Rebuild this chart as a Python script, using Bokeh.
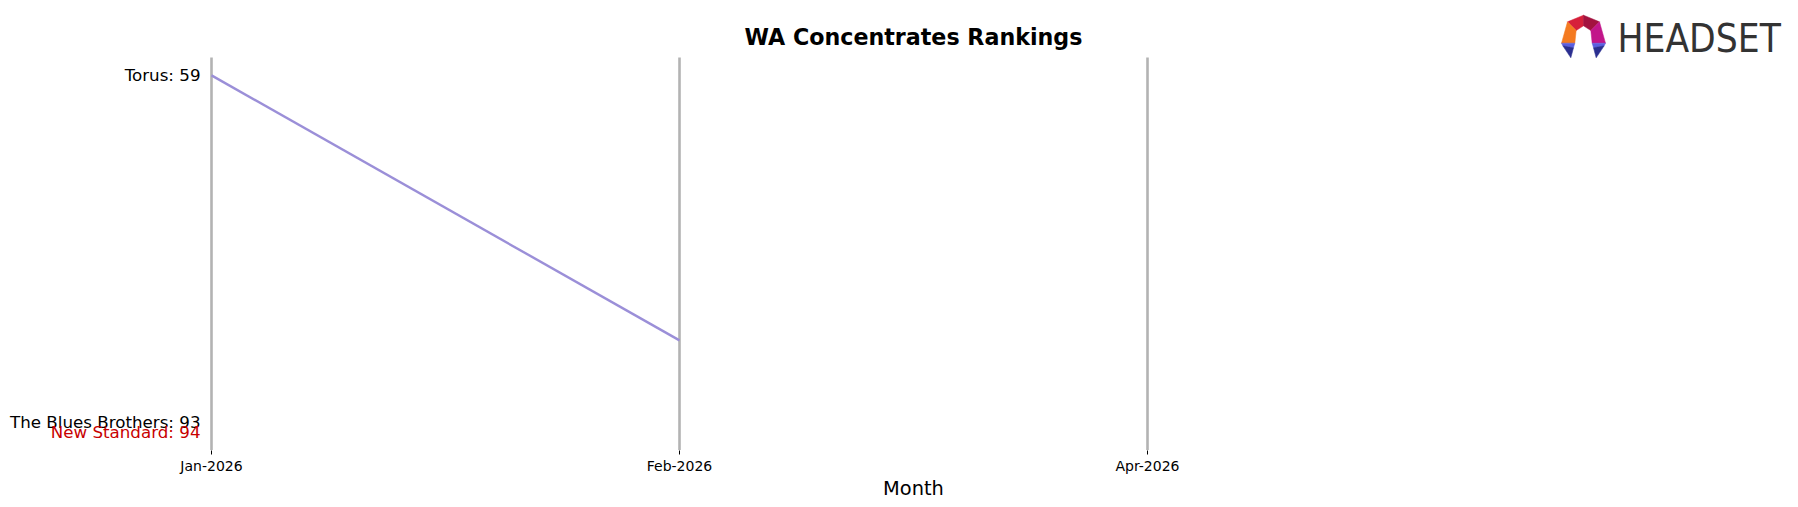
from bokeh.plotting import figure
from bokeh.models import Range1d, FixedTicker, Label, PolyAnnotation, Title
from bokeh.embed import file_html
from bokeh.resources import INLINE

# ---- data ----
months = ["Jan-2026", "Feb-2026", "Apr-2026"]
month_pos = [0, 1, 2]
torus_months = [0, 1]
torus_ranks = [59, 85]
label_brands = ["Torus", "The Blues Brothers", "New Standard"]
label_ranks = [59, 93, 94]
label_colors = ["#000000", "#000000", "#c80000"]
x_limits = [0, 3]

# rank axis limits with 5% margin
r_min, r_max = min(label_ranks), max(label_ranks)
pad = (r_max - r_min) * 0.05
y_top, y_bot = r_min - pad, r_max + pad

# ---- layout (pixels) ----
FONT = "DejaVu Sans"
W, H = 1798, 507
FRAME_H = 450               # frame covers canvas from top to the x axis
AX_TOP, AX_BOT = 57, 449.5  # pixel rows of the rank limits
AX_LEFT, AX_RIGHT = 211, 1615

px_per_rank = (AX_BOT - AX_TOP) / (y_bot - y_top)
px_per_x = (AX_RIGHT - AX_LEFT) / (x_limits[1] - x_limits[0])
yr_top = y_top - AX_TOP / px_per_rank
yr_bot = y_bot + (FRAME_H - AX_BOT) / px_per_rank
xr_left = x_limits[0] - AX_LEFT / px_per_x
xr_right = x_limits[0] + (W - AX_LEFT) / px_per_x

p = figure(width=W, height=H, output_backend="svg", toolbar_location=None,
           x_range=Range1d(xr_left, xr_right), y_range=Range1d(yr_bot, yr_top),
           y_axis_location=None, min_border_left=0, min_border_right=0,
           min_border_top=0, min_border_bottom=H - FRAME_H,
           outline_line_color=None,
           background_fill_color="white", border_fill_color="white")
p.grid.visible = False

ax = p.xaxis[0]
ax.ticker = FixedTicker(ticks=month_pos)
ax.major_label_overrides = {k: v for k, v in zip(month_pos, months)}
ax.axis_line_color = None
ax.major_tick_in = 0
ax.major_tick_out = 4
ax.major_tick_line_color = "#000000"
ax.minor_tick_line_color = None
ax.major_label_text_font = FONT
ax.major_label_text_font_size = "14px"
ax.major_label_text_color = "#000000"
ax.major_label_standoff = 3

# "Month" label centred under the rank axes (x = 1.5 -> pixel 912)
MONTH_FS = 19.4
month_w = 3.135 * MONTH_FS
month_title = Title(text="Month", align="left",
                    offset=(AX_LEFT + AX_RIGHT) / 2 - month_w / 2,
                    text_font=FONT, text_font_size=f"{MONTH_FS}px",
                    text_font_style="normal", text_color="#000000", standoff=-3)
p.add_layout(month_title, "below")

# month guide lines
p.segment(x0=month_pos, y0=[y_bot] * len(month_pos), x1=month_pos,
          y1=[y_top] * len(month_pos), line_color="#b3b3b3", line_width=2.6)

# Torus ranking line
p.line(torus_months, torus_ranks, line_color="#9b8fd8", line_width=2.4)

# brand labels at first month
for b, r, c in zip(label_brands, label_ranks, label_colors):
    p.add_layout(Label(x=month_pos[0], y=r, x_offset=-11, text=f"{b}: {r}",
                       text_align="right", text_baseline="middle",
                       text_font=FONT, text_font_size="16.7px", text_color=c))


def sy(Y):
    return FRAME_H - Y


# chart title
p.add_layout(Label(x=sum(x_limits) / 2, y=sy(36), y_units="screen",
                   text="WA Concentrates Rankings", text_align="center",
                   text_baseline="middle", text_font=FONT,
                   text_font_size="22.2px", text_font_style="bold",
                   text_color="#000000"))


# ---- HEADSET logo (screen units, frame-relative) ----
def icon_pt(zx, zy):
    return 1555 + zx / 3.0, 10 + zy / 3.0


icon_parts = [
    ([(84, 14), (36, 34), (62, 60), (84, 46)], "#d6203a"),
    ([(84, 14), (132, 34), (106, 60), (84, 46)], "#a3123f"),
    ([(36, 34), (18, 98), (58, 98), (62, 60)], "#f47a20"),
    ([(132, 34), (150, 98), (110, 98), (106, 60)], "#c2168a"),
    ([(18, 98), (58, 98), (54, 112), (22, 106)], "#5b5fe0"),
    ([(22, 106), (54, 112), (46, 142)], "#2b2f90"),
    ([(150, 98), (110, 98), (114, 112), (146, 106)], "#5b5fe0"),
    ([(146, 106), (114, 112), (122, 142)], "#2b2f90"),
]
for pts, col in icon_parts:
    P = [icon_pt(a, b) for a, b in pts]
    p.add_layout(PolyAnnotation(xs=[X for X, _ in P], ys=[sy(Y) for _, Y in P],
                                xs_units="screen", ys_units="screen",
                                fill_color=col, fill_alpha=1.0,
                                line_color=col, line_alpha=1.0, line_width=0.5))

p.add_layout(Label(x=1617, y=sy(38), x_units="screen", y_units="screen",
                   text="HEADSET", text_align="left", text_baseline="middle",
                   text_font="DejaVu Sans Condensed, DejaVu Sans",
                   text_font_size="38.5px", text_color="#333333"))

open("out.html", "w").write(file_html(p, INLINE))
